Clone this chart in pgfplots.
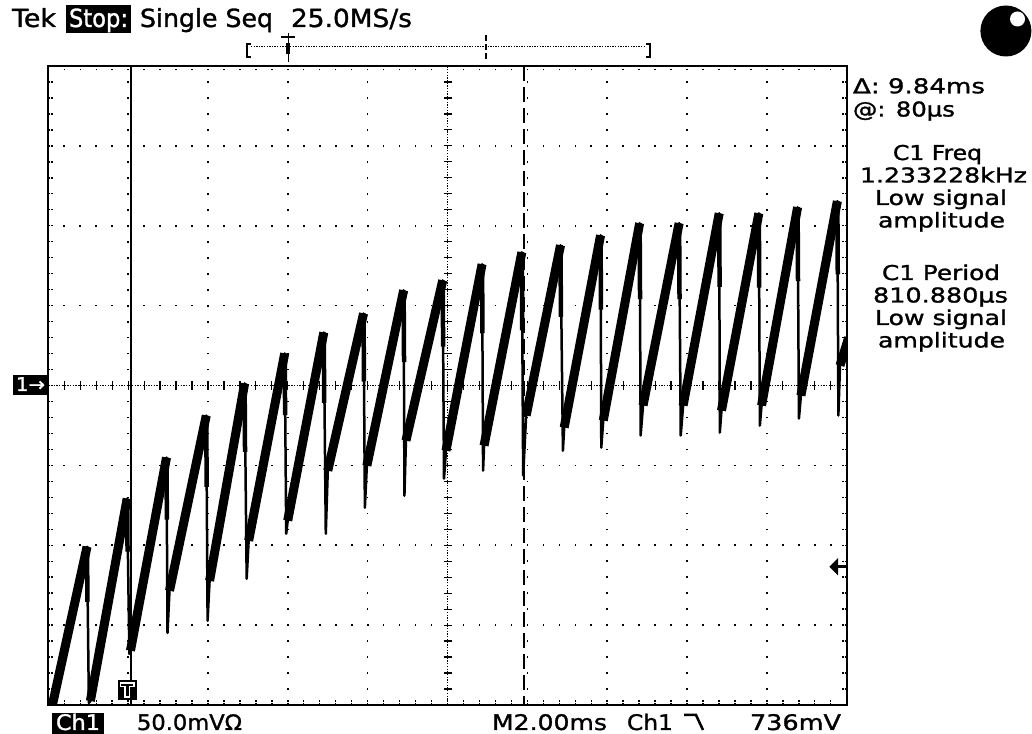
\documentclass[border=0pt]{standalone}
\usepackage{graphicx}
\usepackage{fontspec}
\setmainfont{DejaVu Sans}
\newfontfamily\tekf{DejaVu Sans}[FakeBold=1.2]
\usepackage{pgfplots}
\pgfplotsset{compat=1.18}
\newcommand{\tk}[5]{\node[anchor=base west,inner sep=0pt,outer sep=0pt] at (#1,#2) {\tekf\fontsize{#3}{#3}\selectfont\resizebox{#4bp}{\height}{#5}};}
\begin{document}
\begin{tikzpicture}[x=1bp,y=1bp]
\useasboundingbox (0,0) rectangle (1032,734);
\begin{axis}[
  at={(48.3bp,29bp)}, anchor=south west, scale only axis,
  width=798.4bp, height=639bp,
  xmin=0, xmax=20, ymin=-200, ymax=200,
  xtick={0,2,...,20}, ytick={-200,-150,...,200},
  minor x tick num=4, minor y tick num=4,
  xticklabels={}, yticklabels={},
  tick align=inside, major tick length=5bp, minor tick length=5bp,
  every tick/.style={black, line width=1.4bp, dash pattern=on 1.5bp off 1.5bp},
  grid=major,
  major grid style={black, line width=1.6bp, dash pattern=on 1.6bp off 14.37bp, dash phase=0.8bp},
  axis line style={black, line width=2bp},
  unbounded coords=jump,
]
% centre crosshair
\draw[black, line width=1.3bp, dash pattern=on 1.3bp off 1.4bp] (axis cs:0,0) -- (axis cs:20,0);
\draw[black, line width=1.3bp, dash pattern=on 1.3bp off 1.4bp] (axis cs:10,-200) -- (axis cs:10,200);
\pgfplotsinvokeforeach{0.4,0.8,...,19.7}{\draw[black, line width=1.2bp] (axis cs:#1,-2.6) -- (axis cs:#1,2.6);}
\pgfplotsinvokeforeach{-190,-180,...,190}{\draw[black, line width=1.2bp] (axis cs:9.9,#1) -- (axis cs:10.1,#1);}
% cursors
\draw[black, line width=1.5bp] (axis cs:2.075,-200) -- (axis cs:2.075,200);
\draw[black, line width=1.5bp, dash pattern=on 15bp off 6bp] (axis cs:11.912,200) -- (axis cs:11.912,-200);
% waveform (thin part: drops)
\addplot[black, line width=2.5bp, line join=round] coordinates {
(0.05,-206) (0.971,-100.9) (1.016,-198.7) (1.054,-197.5) (1.975,-70.8) (2.03,-168) (2.058,-166)
(2.961,-45.1) (2.986,-154.9) (3.036,-128.5) (3.957,-18.8) (3.990,-147.3) (4.040,-122.3)
(4.918,1.3) (4.969,-121.0) (5.019,-97.2) (5.922,20.1) (5.960,-92.8) (5.997,-84.6)
(6.901,33.2) (6.951,-92.8) (7.001,-53.3) (7.897,45.1) (7.930,-76.5) (7.980,-50.2)
(8.901,59.6) (8.921,-69.0) (8.959,-34.5) (9.880,65.8) (9.912,-58.3) (9.962,-40.8)
(10.866,75.9) (10.891,-53.3) (10.916,-37.6) (11.862,83.4) (11.895,-56.4) (11.970,-18.8)
(12.831,87.8) (12.891,-40.8) (12.923,-26.3) (13.834,94.0) (13.852,-38.9) (13.902,-21.9)
(14.813,101.6) (14.838,-31.3) (14.898,-12.5) (15.802,101.6) (15.842,-31.3) (15.902,-12.5)
(16.806,107.8) (16.821,-29.5) (16.863,-15.7) (17.799,107.8) (17.824,-25.1) (17.867,-12.5)
(18.770,111.6) (18.803,-20.7) (18.853,-6.3) (19.766,115.4) (19.791,-18.8) (19.832,12.5)
(20.05,30)
};
% thick upper part of each drop
\addplot[black, line width=4.5bp] coordinates {
(0.971,-100.9) (0.98,-135.5) (1,nan)
(1.975,-70.8) (1.985,-104) (2,nan)
(2.961,-45.1) (2.97,-83.9) (3,nan)
(3.957,-18.8) (3.967,-63.4) (4,nan)
(4.918,1.3) (4.928,-41.5) (5,nan)
(5.922,20.1) (5.932,-18.5) (6,nan)
(6.901,33.2) (6.911,-10.9) (7,nan)
(7.897,45.1) (7.907,2.5) (8,nan)
(8.901,59.6) (8.911,14.6) (9,nan)
(9.880,65.8) (9.89,24.3) (10,nan)
(10.866,75.9) (10.876,32.7) (11,nan)
(11.862,83.4) (11.872,34.5) (12,nan)
(12.831,87.8) (12.841,43) (13,nan)
(13.834,94) (13.844,47.5) (14,nan)
(14.813,101.6) (14.823,54.1) (15,nan)
(15.802,101.6) (15.812,54.1) (16,nan)
(16.806,107.8) (16.816,61.7) (17,nan)
(17.799,107.8) (17.809,61.3) (18,nan)
(18.770,111.6) (18.78,65.3) (19,nan)
(19.766,115.4) (19.776,69.5)
};
% waveform (thick noisy ramps)
\addplot[black, line width=9bp] coordinates {
(0.05,-206) (0.971,-100.9) (1,nan)
(1.054,-197.5) (1.975,-70.8) (2,nan)
(2.058,-166) (2.961,-45.1) (3,nan)
(3.036,-128.5) (3.957,-18.8) (4,nan)
(4.040,-122.3) (4.918,1.3) (5,nan)
(5.019,-97.2) (5.922,20.1) (6,nan)
(5.997,-84.6) (6.901,33.2) (7,nan)
(7.001,-53.3) (7.897,45.1) (8,nan)
(7.980,-50.2) (8.901,59.6) (9,nan)
(8.959,-34.5) (9.880,65.8) (10,nan)
(9.962,-40.8) (10.866,75.9) (11,nan)
(10.916,-37.6) (11.862,83.4) (12,nan)
(11.970,-18.8) (12.831,87.8) (13,nan)
(12.923,-26.3) (13.834,94.0) (14,nan)
(13.902,-21.9) (14.813,101.6) (15,nan)
(14.898,-12.5) (15.802,101.6) (16,nan)
(15.902,-12.5) (16.806,107.8) (17,nan)
(16.863,-15.7) (17.799,107.8) (18,nan)
(17.867,-12.5) (18.770,111.6) (19,nan)
(18.853,-6.3) (19.766,115.4) (20,nan)
(19.832,12.5) (20.05,30)
};
\end{axis}
% top status line
\tk{12}{707}{25}{44}{Tek}
\fill (66,701) rectangle (131,729);
\tk{69}{707}{25}{59}{\color{white}Stop:}
\tk{140}{707}{25}{133}{Single Seq}
\tk{291}{707}{25}{121}{25.0MS/s}
% record ruler
\draw[line width=2.5bp] (251,690) -- (247,690) -- (247,677) -- (251,677);
\draw[line width=1.3bp, dash pattern=on 1.3bp off 1.3bp] (251,687.3) -- (646,687.3);
\draw[line width=2.5bp] (646,690) -- (650,690) -- (650,677) -- (646,677);
\draw[line width=1.5bp] (288.3,701) -- (288.3,672);
\draw[line width=2bp] (281,697) -- (295,697);
\draw[line width=4bp] (288.3,691) -- (288.3,680);
\draw[line width=1.5bp, dash pattern=on 6bp off 3bp] (486,699) -- (486,674);
% circle indicator
\fill (1005.9,703) circle (25.5);
\fill[white] (1017.5,715) circle (7.5);
% right readouts
\tk{853}{640.7}{20.5}{132}{Δ: 9.84ms}
\tk{853}{617.5}{20.5}{102}{@: 80µs}
\tk{893}{574}{20.5}{89}{C1 Freq}
\tk{860}{551.5}{20.5}{167}{1.233228kHz}
\tk{875}{529}{20.5}{132}{Low signal}
\tk{878}{506.5}{20.5}{127}{amplitude}
\tk{882}{454}{20.5}{118}{C1 Period}
\tk{873}{431.5}{20.5}{135}{810.880µs}
\tk{875}{409}{20.5}{132}{Low signal}
\tk{878}{386.5}{20.5}{127}{amplitude}
% channel marker
\fill (13.3,339) rectangle (48.3,359);
\tk{16}{343}{19}{29}{\color{white}1→}
% trigger level arrow
\fill (829.3,167.3) -- (838,176) -- (838,158.6) -- cycle;
\draw[line width=3bp] (837,167.3) -- (846.7,167.3);
% trigger position marker
\fill (117.7,34) rectangle (136.7,54);
\draw[white, line width=1.2bp] (120.5,51) -- (134,51) -- (134,47.5) -- (129.5,47.5) -- (129.5,37) -- (125,37) -- (125,47.5) -- (120.5,47.5) -- cycle;
% bottom status line
\fill (52,0) rectangle (104,21);
\tk{56}{4}{21.5}{44}{\color{white}Ch1}
\tk{137}{4}{21.5}{105}{50.0mVΩ}
\tk{492}{4}{21.5}{115}{M2.00ms}
\tk{627}{4}{21.5}{46}{Ch1}
\draw[line width=2.5bp] (684,19) -- (696,19) -- (703,4);
\tk{750}{4}{21.5}{91}{736mV}
\end{tikzpicture}
\end{document}
